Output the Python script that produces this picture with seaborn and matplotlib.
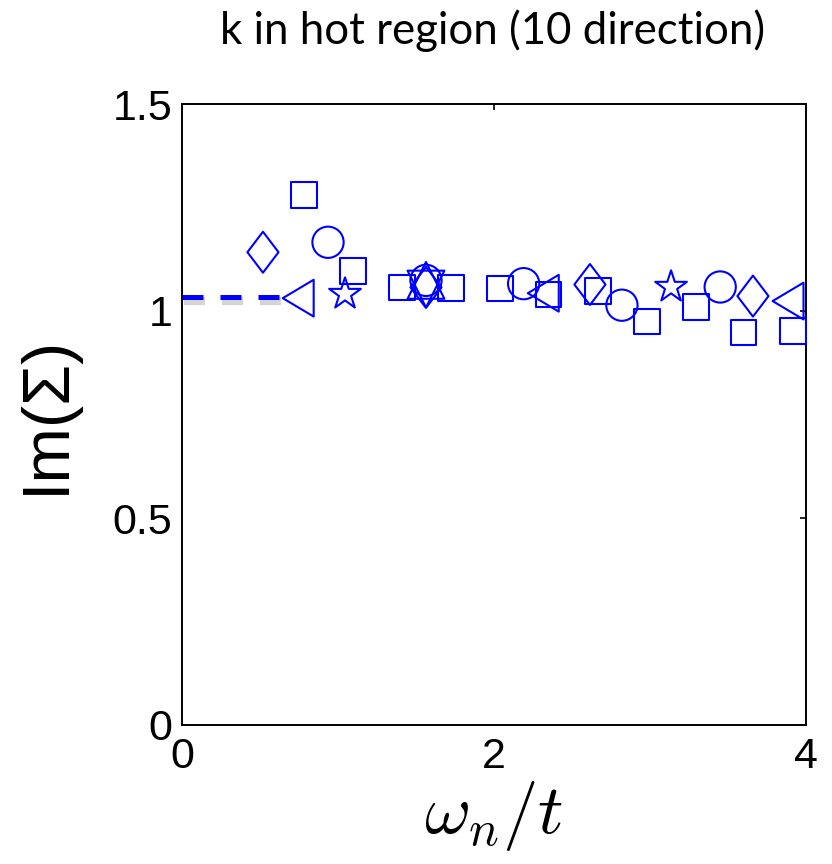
import numpy as np
import pandas as pd
import matplotlib
matplotlib.use("Agg")
import matplotlib.pyplot as plt
import matplotlib.patheffects as pe
from matplotlib.path import Path
import seaborn as sns

# ---- data ----
sq_x = [0.782, 1.096, 1.410, 1.724, 2.040, 2.350, 2.667, 2.980, 3.295, 3.600, 3.917]
sq_y = [1.281, 1.096, 1.057, 1.055, 1.054, 1.040, 1.048, 0.975, 1.010, 0.948, 0.952]
circ_x = [0.936, 1.564, 2.190, 2.820, 3.450]
circ_y = [1.166, 1.074, 1.066, 1.014, 1.058]
diam_x = [0.519, 1.564, 2.615, 3.660]
diam_y = [1.142, 1.057, 1.064, 1.036]
ltri_x = [0.745, 2.316, 3.885]
ltri_y = [1.031, 1.043, 1.024]
star_x = [1.045, 3.135]
star_y = [1.041, 1.058]
utri_x = [1.564]
utri_y = [1.074]
dtri_x = [1.564]
dtri_y = [1.053]
dash_x = [0.0, 0.62]
dash_y = [1.033, 1.033]

x_ticks = [0, 2, 4]
y_ticks = [0, 0.5, 1, 1.5]
y_ticklabels = ["0", "0.5", "1", "1.5"]
title = "k in hot region (10 direction)"

sns.set_theme(style="white")
plt.rcParams["font.family"] = ["Liberation Sans", "DejaVu Sans"]
plt.rcParams["mathtext.fontset"] = "cm"
plt.rcParams["text.color"] = "black"
plt.rcParams["axes.labelcolor"] = "black"

fig = plt.figure(figsize=(8.32, 8.64), dpi=100)
ax = fig.add_axes([182 / 832, 1 - 725 / 864, 624 / 832, 621 / 864])

blue = "#0000ff"
lw = 1.5

diamond = Path([(0, 1), (0.76, 0), (0, -1), (-0.76, 0), (0, 1)],
               [Path.MOVETO, Path.LINETO, Path.LINETO, Path.LINETO, Path.CLOSEPOLY])
ltri = Path([(-0.84, 0), (0.84, 1), (0.84, -1), (-0.84, 0)],
            [Path.MOVETO, Path.LINETO, Path.LINETO, Path.CLOSEPOLY])

groups = [
    (sq_x, sq_y, "s", 18.5),
    (circ_x, circ_y, "o", 22.5),
    (diam_x, diam_y, diamond, 29.5),
    (ltri_x, ltri_y, ltri, 26.5),
    (star_x, star_y, "*", 24.0),
    (utri_x, utri_y, "^", 26.5),
    (dtri_x, dtri_y, "v", 26.5),
]

# dashed line at the zero-frequency extrapolation
dash_df = pd.DataFrame({"x": dash_x, "y": dash_y})
sns.lineplot(data=dash_df, x="x", y="y", ax=ax, color=blue, linewidth=3.6,
             dashes=False, zorder=3)
ln = ax.lines[-1]
ln.set_dashes([4.2, 3.4])
ln.set_dash_capstyle("butt")
ln.set_path_effects([pe.SimpleLineShadow(offset=(1.5, -2.5), shadow_color="#888888",
                                         alpha=0.35, linewidth=6),
                     pe.Normal()])

for gx, gy, mk, ms in groups:
    df = pd.DataFrame({"x": gx, "y": gy})
    sns.scatterplot(data=df, x="x", y="y", ax=ax, marker=mk, s=ms ** 2,
                    facecolor="none", edgecolor=blue, linewidth=lw,
                    zorder=4, clip_on=False, legend=False)

ax.set_xlim(0, 4)
ax.set_ylim(0, 1.5)
ax.set_xticks(x_ticks)
ax.set_xticklabels([str(t) for t in x_ticks])
ax.set_yticks(y_ticks)
ax.set_yticklabels(y_ticklabels)

for s in ax.spines.values():
    s.set_visible(True)
    s.set_color("black")
    s.set_linewidth(1.4)
ax.tick_params(axis="both", which="both", direction="in", length=4.5, width=1.2,
               top=True, right=True, labelsize=31, colors="black",
               labelcolor="black", pad=9)
ax.tick_params(axis="y", pad=7)

ax.set_xlabel(r"$\omega_n/t$", fontsize=51, labelpad=1, color="black")
ax.set_ylabel("Im(Σ)", fontsize=48, labelpad=25, color="black")
ax.grid(False)

fig.text(493 / 832, 1 - 44 / 864, title, fontsize=31.5, family=["Lato", "DejaVu Sans"],
         ha="center", va="baseline", color="black")

fig.savefig("out.png", dpi=100, facecolor="white")
